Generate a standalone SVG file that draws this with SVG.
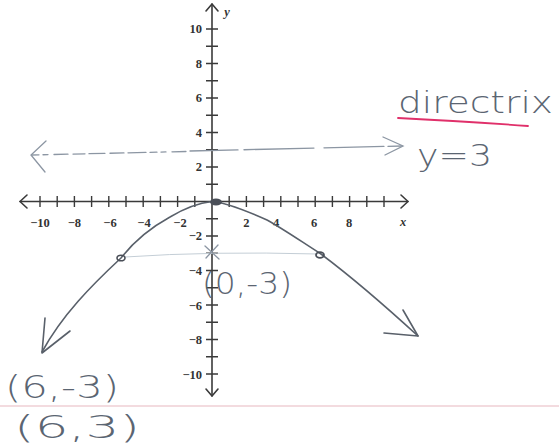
<svg xmlns="http://www.w3.org/2000/svg" width="559" height="446" viewBox="0 0 559 446">
<style>
.ax{stroke:#3a3a3a;stroke-width:1.6;fill:none;stroke-linecap:round;stroke-linejoin:round}
.tk{stroke:#3a3a3a;stroke-width:1.4}
.lbl{font-family:"Liberation Serif",serif;font-weight:bold;font-size:12.5px;fill:#333}
.hw{font-family:"DejaVu Sans","Liberation Sans",sans-serif;font-weight:200;fill:#5b6572}
.pen{stroke:#59606a;stroke-width:1.6;fill:none;stroke-linecap:round;stroke-linejoin:round}
.faint{stroke:#8c96a3;stroke-width:1.3;fill:none;stroke-linecap:round}
</style>
<rect width="559" height="446" fill="#ffffff"/>
<!-- notebook line -->
<line x1="0" y1="406" x2="559" y2="406" stroke="#e8b8c0" stroke-width="1.2"/>
<g id="axes">
  <path class="ax" d="M20 201.5 H408"/>
  <path class="ax" d="M27 195 L20 201.5 L27 208"/>
  <path class="ax" d="M401 195 L408 201.5 L401 208"/>
  <path class="ax" d="M212 4 V396"/>
  <path class="ax" d="M206 11 L212 4 L218 11"/>
  <path class="ax" d="M206 389 L212 396 L218 389"/>
  <g class="tk">
    <path d="M40 196v11M57.2 196v11M74.4 196v11M91.6 196v11M108.8 196v11M126 196v11M143.2 196v11M160.4 196v11M177.6 196v11M194.8 196v11M229.2 196v11M246.4 196v11M263.6 196v11M280.8 196v11M298 196v11M315.2 196v11M332.4 196v11M349.6 196v11M366.8 196v11M384 196v11"/>
    <path d="M206 29h12M206 46.25h12M206 63.5h12M206 80.75h12M206 98h12M206 115.25h12M206 132.5h12M206 149.75h12M206 167h12M206 184.25h12M206 218.75h12M206 236h12M206 253.25h12M206 270.5h12M206 287.75h12M206 305h12M206 322.25h12M206 339.5h12M206 356.75h12M206 374h12"/>
  </g>
  <g class="lbl" text-anchor="middle">
    <text x="40" y="227">−10</text>
    <text x="74.4" y="227">−8</text>
    <text x="110" y="227">−6</text>
    <text x="144" y="227">−4</text>
    <text x="180" y="227">−2</text>
    <text x="246.4" y="227">2</text>
    <text x="276" y="227">4</text>
    <text x="314" y="227">6</text>
    <text x="349" y="227">8</text>
  </g>
  <g class="lbl" text-anchor="end">
    <text x="202" y="33">10</text>
    <text x="202" y="68">8</text>
    <text x="202" y="102">6</text>
    <text x="202" y="137">4</text>
    <text x="202" y="171">2</text>
    <text x="202" y="240">−2</text>
    <text x="202" y="275">−4</text>
    <text x="202" y="310">−6</text>
    <text x="202" y="344">−8</text>
    <text x="202" y="379">−10</text>
  </g>
  <text class="lbl" x="403" y="226" text-anchor="middle" font-style="italic">x</text>
  <text class="lbl" x="227" y="16" text-anchor="middle" font-style="italic">y</text>
</g>
<g id="directrix">
  <path class="faint" d="M32 155 L186 151.5" stroke-dasharray="7 4 5 6 14 5 12 4 16 5 14 4 18 4"/>
  <path class="faint" d="M190 151 L402 146" stroke-dasharray="48 6 70 10 60 4"/>
  <path class="faint" d="M46 141 L31 155 L45 172"/>
  <path class="faint" d="M383 137 L403 146 L385 155"/>
  <text class="hw" x="398" y="113" font-size="30" textLength="155" lengthAdjust="spacingAndGlyphs">directrix</text>
  <path d="M398 118 Q460 121 528 126" stroke="#e0306a" stroke-width="1.8" fill="none" stroke-linecap="round"/>
  <text class="hw" x="417" y="166" font-size="30" textLength="75" lengthAdjust="spacingAndGlyphs">y=3</text>
</g>
<g id="parabola">
  <path d="M125 257 Q212 251 318 254" stroke="#c4ced6" stroke-width="1" fill="none"/>
  <path class="pen" d="M42 352 C62 315 92 285 121 258 C135 240 150 228 170 217 C185 208 198 203 212 201.5 C224 202 240 208 267 220 C285 230 302 242 321 254 C345 272 370 292 418 336"/>
  <path class="pen" d="M45 318 L42 353 L70 331"/>
  <path class="pen" d="M403 310 L418 336 L384 333"/>
  <ellipse cx="216" cy="202" rx="6" ry="3.5" fill="#4a4f58"/>
  <ellipse cx="121" cy="258" rx="4" ry="2.8" fill="none" stroke="#4a4f58" stroke-width="1.6"/>
  <ellipse cx="320" cy="255" rx="4" ry="2.8" fill="none" stroke="#4a4f58" stroke-width="1.8"/>
  <path class="faint" d="M205 246 L219 259 M218 245 L206 258"/>
</g>
<g id="annotations">
  <text class="hw" x="202" y="294" font-size="30" textLength="90" lengthAdjust="spacingAndGlyphs">(0,-3)</text>
  <text class="hw" x="5" y="398" font-size="32" textLength="114" lengthAdjust="spacingAndGlyphs">(6,-3)</text>
  <text class="hw" x="14" y="438" font-size="32" textLength="126" lengthAdjust="spacingAndGlyphs">(6,3)</text>
</g>
</svg>
